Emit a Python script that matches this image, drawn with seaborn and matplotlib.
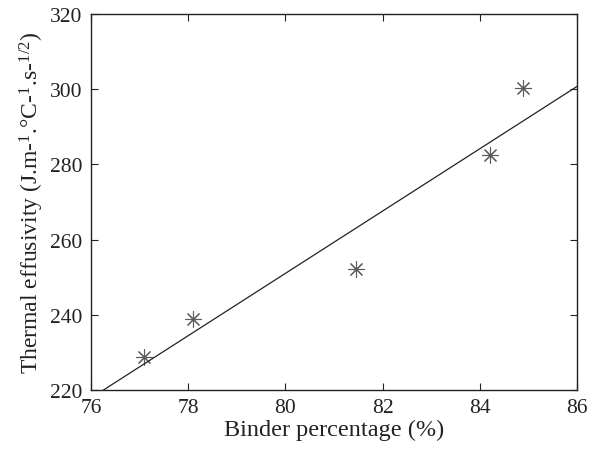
import matplotlib
matplotlib.use("Agg")
import matplotlib.pyplot as plt
import seaborn as sns
import pandas as pd

binder = [77.09, 78.09, 81.46, 84.20, 84.89]
effusivity = [228.8, 238.8, 252.3, 282.5, 300.2]
xticks = [76, 78, 80, 82, 84, 86]
yticks = [220, 240, 260, 280, 300, 320]

df = pd.DataFrame({"binder": binder, "effusivity": effusivity})

sns.set_style("ticks")
plt.rcParams["font.family"] = ["Liberation Serif", "DejaVu Serif"]
plt.rcParams["mathtext.fontset"] = "custom"
plt.rcParams["mathtext.rm"] = "Liberation Serif"
plt.rcParams["mathtext.it"] = "Liberation Serif:italic"
plt.rcParams["mathtext.bf"] = "Liberation Serif:bold"

fig = plt.figure(figsize=(5.98, 4.56), dpi=100)
ax = fig.add_axes([0.152, 0.1425, 0.813, 0.8245])
ax.set_xlim(76, 86)
ax.set_ylim(220, 320)

sns.regplot(data=df, x="binder", y="effusivity", ax=ax, ci=None, truncate=False,
            marker=(8, 2, 0),
            scatter_kws={"s": 130, "color": "#333333", "linewidths": 0.8},
            line_kws={"color": "#222222", "linewidth": 0.9})

ax.set_xlim(76, 86)
ax.set_ylim(220, 320)
ax.set_xticks(xticks)
ax.set_yticks(yticks)
ax.tick_params(direction="in", length=5, width=0.8, top=True, right=True,
               labelsize=15.5, colors="#222222", pad=6)
for sp in ax.spines.values():
    sp.set_visible(True)
    sp.set_linewidth(1.0)
    sp.set_color("#222222")

ax.set_xlabel("Binder percentage (%)", fontsize=17.5, color="#222222", labelpad=1)
ax.set_ylabel("Thermal effusivity (J.m-$^{1}$.°C-$^{1}$.s-$^{1/2}$)", fontsize=17,
              color="#222222", labelpad=3)

fig.savefig("out.png", dpi=100)
